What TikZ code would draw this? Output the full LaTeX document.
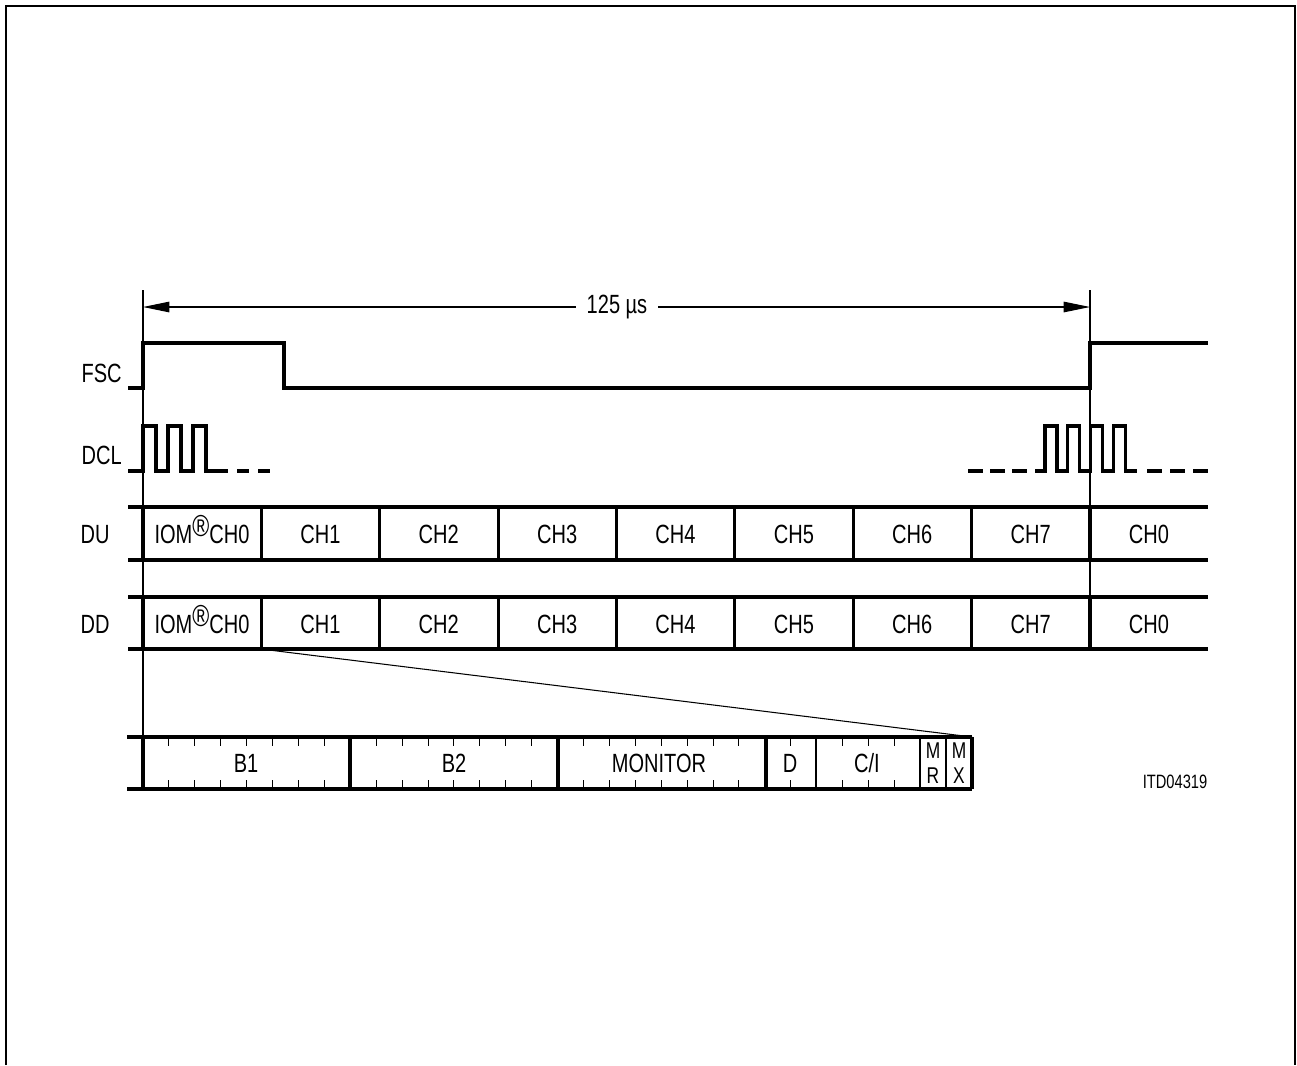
\documentclass[tikz,border=0pt]{standalone}
\usepackage{fontspec}
\setmainfont[FakeStretch=0.76]{Liberation Sans}
\usetikzlibrary{arrows.meta}

\tikzset{
  sig/.style={line width=1.8pt},
  guide/.style={line width=0.6pt},
  tick/.style={line width=0.5pt},
  lbl/.style={font=\fontsize{15}{16}\selectfont, inner sep=0pt, anchor=base},
  smalllbl/.style={font=\fontsize{13}{14.5}\selectfont, inner sep=0pt, align=center},
  period/.style={guide, {Triangle[length=15pt,width=6pt]}-{Triangle[length=15pt,width=6pt]}}
}
\newcommand{\iomreg}{IOM\raisebox{0.5ex}{\smash{\scalebox{1.15}{\textregistered}}}CH0}

\begin{document}
\begin{tikzpicture}[x=0.02cm, y=-0.02cm]
 \useasboundingbox (0,0) rectangle (1297,1065);
 \draw[line width=1.2pt] (6,1065) -- (6,6) -- (1295,6) -- (1295,1065);

 \coordinate (tstart) at (143,307);
 \coordinate (tend) at (1090,307);
 \draw[guide] (143,290) -- (143,737);
 \draw[guide] (1090,290) -- (1090,597);
 \draw[period] (tstart) -- (tend);
 \node[lbl, fill=white, inner xsep=6pt, inner ysep=2pt] (period) at (617,313) {125 µs};

 \node[lbl, anchor=base east] (fsc) at (122,382) {FSC};
 \node[lbl, anchor=base east] (dcl) at (122,464) {DCL};
 \node[lbl, anchor=base east] (du) at (110,543) {DU};
 \node[lbl, anchor=base east] (dd) at (110,633) {DD};

 \draw[sig] (128,388) -- (143,388) -- (143,343) -- (284,343) -- (284,388) -- (1090,388) -- (1090,343) -- (1208,343);

 \draw[sig] (128,471) -- (143,471)
   \foreach \i in {1,2,3} { -- ++(0,-45) -- ++(13,0) -- ++(0,45) -- ++(12,0) } -- (228,471);
 \foreach \x in {237,258} \draw[sig] (\x,471) -- ++(12,0);
 \draw[sig] (1035,471) -- (1045,471)
   \foreach \i in {1,2,3,4} { -- ++(0,-45) -- ++(12,0) -- ++(0,45) -- ++(10.7,0) } -- (1137,471);
 \foreach \x in {968,990,1012,1147,1170,1193} \draw[sig] (\x,471) -- ++(15,0);

 \draw[sig] (128,507) -- (1208,507);
 \draw[sig] (128,560) -- (1208,560);
 \draw[sig] (128,597) -- (1208,597);
 \draw[sig] (128,649) -- (1208,649);
 \foreach \i in {0,...,8} {
   \draw[sig] (143+118.375*\i,507) -- (143+118.375*\i,560);
   \draw[sig] (143+118.375*\i,597) -- (143+118.375*\i,649);
 }
 \node[lbl] (du0) at (202,543) {\iomreg};
 \node[lbl] (dd0) at (202,633) {\iomreg};
 \foreach \i/\t in {1/CH1,2/CH2,3/CH3,4/CH4,5/CH5,6/CH6,7/CH7,8/CH0} {
   \node[lbl] (du\i) at (202+118.375*\i,543) {\t};
   \node[lbl] (dd\i) at (202+118.375*\i,633) {\t};
 }

 \coordinate (zoomfrom) at (261,649);
 \coordinate (zoomto) at (972,737);
 \draw[guide] (zoomfrom) -- (zoomto);

 \draw[sig] (127,737) -- (972,737);
 \draw[sig] (127,789) -- (972,789);
 \foreach \x in {143,350,558,766,972} \draw[sig] (\x,737) -- (\x,789);
 \foreach \x in {816,920,946} \draw[guide] (\x,737) -- (\x,789);
 \foreach \k in {1,...,7,9,10,...,15,17,18,...,23,25,27,28,29} {
   \draw[tick] (143+25.906*\k,737) -- ++(0,9);
   \draw[tick] (143+25.906*\k,789) -- ++(0,-9);
 }
 \node[lbl] (b1) at (246,772) {B1};
 \node[lbl] (b2) at (454,772) {B2};
 \node[lbl] (mon) at (659,772) {MONITOR};
 \node[lbl] (d) at (790,772) {D};
 \node[lbl] (ci) at (867,772) {C/I};
 \node[smalllbl] (mr) at (933,763) {M\\R};
 \node[smalllbl] (mx) at (959,763) {M\\X};

 \node[font=\fontsize{11}{12}\selectfont, inner sep=0pt, anchor=base] (itd) at (1175,788) {ITD04319};
\end{tikzpicture}
\end{document}
